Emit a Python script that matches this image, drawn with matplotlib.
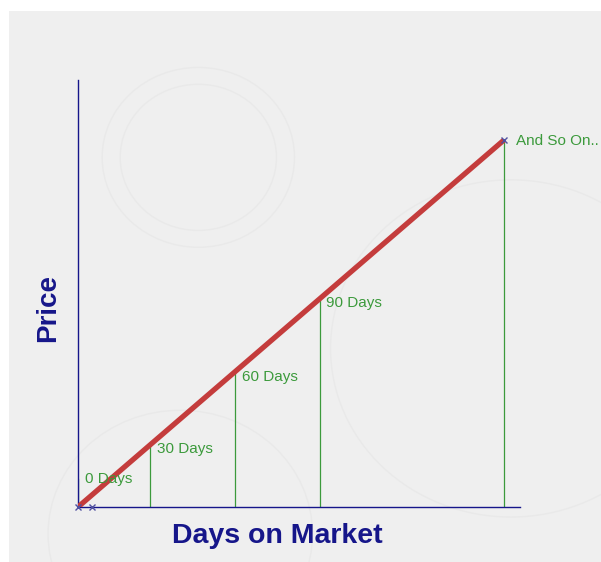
import matplotlib.pyplot as plt
from matplotlib.patches import Rectangle, Circle

plt.rcParams['font.family'] = ['Liberation Sans', 'DejaVu Sans']

# punto en el eje x (unidades de dibujo) y precio en cada etapa
day_labels = ["0 Days", "30 Days", "60 Days", "90 Days", "And So On.."]
day_pos = [0, 72, 157, 242, 426]
price = [0, 62, 135, 208, 367]
# alturas de las lineas verdes y de las etiquetas
drop_height = [28, 62, 135, 208, 367]
label_y = [28, 58, 130, 204, 366]
label_dx = [7, 7, 7, 6, 12]

navy = "#16168a"
green = "#3c9a3c"
red = "#c43c3c"

fig = plt.figure(figsize=(6.01, 5.62), dpi=100)
fig.patch.set_facecolor("white")

# panel gris de fondo
fig.patches.append(Rectangle((9 / 601, 0), 1, 1 - 11 / 562, transform=fig.transFigure,
                             facecolor="#efefef", edgecolor="none", zorder=-10))
# circulos decorativos muy tenues
for cx, cy, r in [(0.33, 0.72, 0.13), (0.33, 0.72, 0.16), (0.85, 0.38, 0.3), (0.3, 0.05, 0.22)]:
    fig.patches.append(Circle((cx, cy), r, transform=fig.transFigure, facecolor="none",
                              edgecolor="#e9e9e9", lw=1.0, zorder=-9))

ax = fig.add_axes([78 / 601, 55 / 562, 442 / 601, 427 / 562])
ax.set_facecolor("none")
ax.set_xlim(0, 442)
ax.set_ylim(0, 427)
for s in ["top", "right"]:
    ax.spines[s].set_visible(False)
for s in ["left", "bottom"]:
    ax.spines[s].set_color(navy)
    ax.spines[s].set_linewidth(1.0)
ax.set_xticks([])
ax.set_yticks([])

# lineas verticales verdes y etiquetas
for lbl, x, h, ly, dx in zip(day_labels, day_pos, drop_height, label_y, label_dx):
    ax.plot([x, x], [0, h], color=green, lw=0.9, zorder=2)
    ax.text(x + dx, ly, lbl, color=green, fontsize=11, ha="left", va="center",
            clip_on=False, zorder=4)

# linea roja de precio
ax.plot([day_pos[0], day_pos[-1]], [price[0], price[-1]], color=red, lw=3.8,
        solid_capstyle="butt", zorder=3)

# marcadores pequeños
ax.plot([0, 14, day_pos[-1]], [0, 0, price[-1]], "x", color="#5050a0", ms=4, mew=1,
        clip_on=False, zorder=5)

fig.text(277 / 601, 1 - 536 / 562, "Days on Market", color=navy, fontsize=20.5,
         fontweight="bold", ha="center", va="center")
fig.text(48 / 601, 1 - 308 / 562, "Price", color=navy, fontsize=20,
         fontweight="bold", ha="center", va="center", rotation=90)

fig.savefig("out.png", dpi=100)
